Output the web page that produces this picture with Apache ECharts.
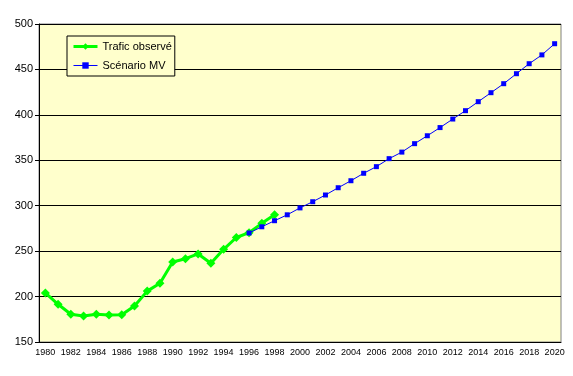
<!DOCTYPE html>
<html><head><meta charset="utf-8">
<script src="https://cdn.jsdelivr.net/npm/echarts@6/dist/echarts.min.js"></script>
<style>html,body{margin:0;padding:0;background:#fff}#c{width:573px;height:376px}</style>
</head><body><div id="c"></div>
<script>
var years = [];
for (var y = 1980; y <= 2020; y++) years.push(String(y));
var observed = [204, 191.5, 180.5, 178.6, 180.5, 179.7, 180, 189.6, 206, 214.6, 238, 241.7, 246.9, 236.6, 252, 265, 270.3, 280.6, 290];
var scenario = [270, 276.8, 283.5, 290, 297.6, 304.4, 311.8, 319.8, 327.5, 335.7, 343, 351.8, 359, 368.3, 377, 386, 395.4, 404.6, 414.5, 424.4, 434.3, 445.3, 456.3, 466, 478.3];
var yTicks = {min: 150, max: 500, interval: 50};

var obsData = years.map(function(_, i){ return i < observed.length ? observed[i] : null; });
var scStart = years.indexOf('1996');
var scData = years.map(function(_, i){ return i >= scStart && i - scStart < scenario.length ? scenario[i - scStart] : null; });

var chart = echarts.init(document.getElementById('c'), null, {renderer: 'canvas'});
chart.setOption({
  animation: false,
  backgroundColor: '#ffffff',
  textStyle: {fontFamily: 'Liberation Sans, Arial, sans-serif'},
  grid: {left: 39, right: 12, top: 24, bottom: 34, show: true, backgroundColor: '#FFFFCC', borderColor: '#808080', borderWidth: 1},
  legend: {
    orient: 'vertical', left: 67, top: 36,
    backgroundColor: '#FFFFCC', borderColor: '#000', borderWidth: 1,
    padding: [4, 3, 4, 5], itemGap: 6, itemWidth: 24, itemHeight: 8,
    textStyle: {fontSize: 11, color: '#000', fontFamily: 'Liberation Sans, Arial, sans-serif', lineHeight: 13},
    data: [
      {name: 'Trafic observé', lineStyle: {width: 3}},
      {name: 'Scénario MV', lineStyle: {width: 1}}
    ]
  },
  xAxis: {
    type: 'category', data: years, boundaryGap: true,
    axisLine: {lineStyle: {color: '#000', width: 1}},
    axisTick: {interval: 0, length: 4, lineStyle: {color: '#000'}},
    axisLabel: {interval: 1, fontSize: 9, color: '#000', margin: 6, fontFamily: 'Liberation Sans, Arial, sans-serif'},
    splitLine: {show: false}
  },
  yAxis: {
    type: 'value', min: yTicks.min, max: yTicks.max, interval: yTicks.interval,
    axisLine: {show: true, lineStyle: {color: '#000', width: 1}},
    axisTick: {show: true, length: 4, lineStyle: {color: '#000'}},
    axisLabel: {fontSize: 11, color: '#000', margin: 6, fontFamily: 'Liberation Sans, Arial, sans-serif'},
    splitLine: {show: true, lineStyle: {color: '#000', width: 1}}
  },
  series: [
    {
      name: 'Trafic observé', type: 'line', data: obsData, connectNulls: false,
      symbol: 'diamond', symbolSize: 9, showAllSymbol: true,
      itemStyle: {color: '#00FF00'}, lineStyle: {color: '#00FF00', width: 3}, z: 3
    },
    {
      name: 'Scénario MV', type: 'line', data: scData, connectNulls: false,
      symbol: 'rect', symbolSize: 5, showAllSymbol: true,
      itemStyle: {color: '#0000FF'}, lineStyle: {color: '#0000FF', width: 1}, z: 4
    }
  ]
});
</script>
</body></html>
